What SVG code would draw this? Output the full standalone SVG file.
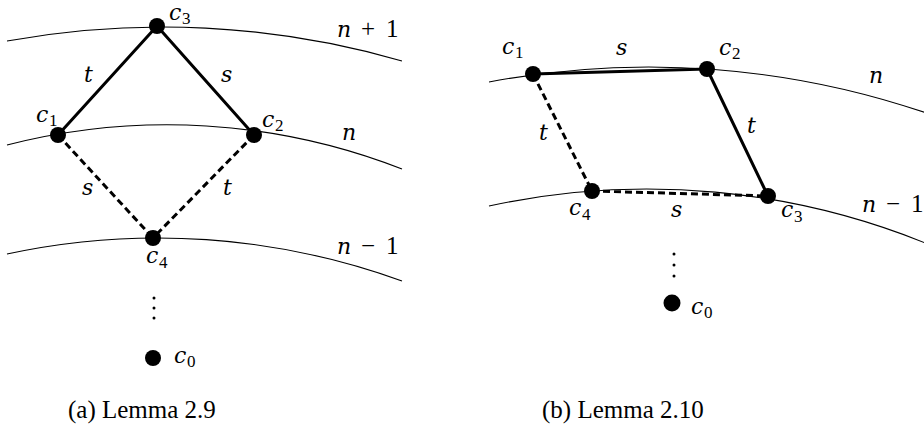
<svg xmlns="http://www.w3.org/2000/svg" width="924" height="429" viewBox="0 0 924 429">
<style>
.arc{fill:none;stroke:#000;stroke-width:1.1}
.e{fill:none;stroke:#000;stroke-width:3;stroke-linecap:round}
.d{stroke-dasharray:7 4;stroke-linecap:butt}
.node{fill:#000}
text{font-family:'Liberation Serif','DejaVu Serif','Times New Roman',serif;fill:#000}
.m{font-family:'DejaVu Serif','Liberation Serif',serif;font-style:italic;font-size:22px}
.r{font-style:normal;font-size:25px}
.sub{font-style:normal;font-size:17px}
.cap{font-size:25px}
</style>
<rect width="924" height="429" fill="#fff"/>
<g id="levels">
<path class="arc" d="M7,41 A864,864 0 0 1 402,61"/>
<path class="arc" d="M7,145 A645,645 0 0 1 402,169"/>
<path class="arc" d="M7,254 A716,716 0 0 1 402,281"/>
<path class="arc" d="M489,82 A859,859 0 0 1 935,116"/>
<path class="arc" d="M489,206 A744,744 0 0 1 935,247"/>
</g>
<g id="connectors">
<line class="e" x1="58" y1="135" x2="157" y2="26"/>
<line class="e" x1="157" y1="26" x2="254" y2="135"/>
<line class="e d" x1="58" y1="135" x2="153" y2="238"/>
<line class="e d" x1="254" y1="135" x2="153" y2="238"/>
<line class="e" x1="533" y1="74" x2="707" y2="69"/>
<line class="e" x1="707" y1="69" x2="768" y2="196"/>
<line class="e d" x1="533" y1="74" x2="592" y2="191"/>
<line class="e d" x1="592" y1="191" x2="768" y2="196"/>
</g>
<g id="edge-labels">
<text class="m" x="84" y="82">t</text>
<text class="m" x="221" y="82">s</text>
<text class="m" x="82" y="195">s</text>
<text class="m" x="223" y="195">t</text>
<text class="m" x="616" y="55">s</text>
<text class="m" x="539" y="140">t</text>
<text class="m" x="747" y="133">t</text>
<text class="m" x="671" y="217">s</text>
</g>
<g id="level-labels">
<text x="337" y="37"><tspan class="m">n</tspan><tspan class="r" x="361">+</tspan><tspan class="r" x="386">1</tspan></text>
<text class="m" x="342" y="140">n</text>
<text x="337" y="254"><tspan class="m">n</tspan><tspan class="r" x="361">−</tspan><tspan class="r" x="386">1</tspan></text>
<text class="m" x="869" y="83">n</text>
<text x="862" y="212"><tspan class="m">n</tspan><tspan class="r" x="886">−</tspan><tspan class="r" x="911">1</tspan></text>
</g>
<g id="a-c3"><circle class="node" cx="157" cy="26" r="8"/><text class="m" x="169" y="20">c</text><text class="sub" x="182" y="24">3</text></g>
<g id="a-c1"><circle class="node" cx="58" cy="135" r="8"/><text class="m" x="36" y="122">c</text><text class="sub" x="49" y="126">1</text></g>
<g id="a-c2"><circle class="node" cx="254" cy="135" r="8"/><text class="m" x="262" y="127">c</text><text class="sub" x="275" y="131">2</text></g>
<g id="a-c4"><circle class="node" cx="153" cy="238" r="8"/><text class="m" x="146" y="263">c</text><text class="sub" x="159" y="268">4</text></g>
<g id="a-dots"><circle class="node" cx="154" cy="298" r="1.5"/><circle class="node" cx="154" cy="308" r="1.5"/><circle class="node" cx="154" cy="318" r="1.5"/></g>
<g id="a-c0"><circle class="node" cx="153" cy="358" r="8"/><text class="m" x="174" y="363">c</text><text class="sub" x="187" y="367">0</text></g>
<g id="b-c1"><circle class="node" cx="533" cy="74" r="8"/><text class="m" x="502" y="54">c</text><text class="sub" x="515" y="58">1</text></g>
<g id="b-c2"><circle class="node" cx="707" cy="69" r="8"/><text class="m" x="719" y="55">c</text><text class="sub" x="732" y="59">2</text></g>
<g id="b-c3"><circle class="node" cx="768" cy="196" r="8"/><text class="m" x="781" y="217">c</text><text class="sub" x="794" y="222">3</text></g>
<g id="b-c4"><circle class="node" cx="592" cy="191" r="8"/><text class="m" x="569" y="215">c</text><text class="sub" x="582" y="220">4</text></g>
<g id="b-dots"><circle class="node" cx="674" cy="254" r="1.5"/><circle class="node" cx="674" cy="265" r="1.5"/><circle class="node" cx="674" cy="276" r="1.5"/></g>
<g id="b-c0"><circle class="node" cx="672" cy="303" r="8.5"/><text class="m" x="691" y="314">c</text><text class="sub" x="704" y="318">0</text></g>
<text class="cap" x="68" y="418">(a) Lemma 2.9</text>
<text class="cap" x="542" y="418">(b) Lemma 2.10</text>
</svg>
